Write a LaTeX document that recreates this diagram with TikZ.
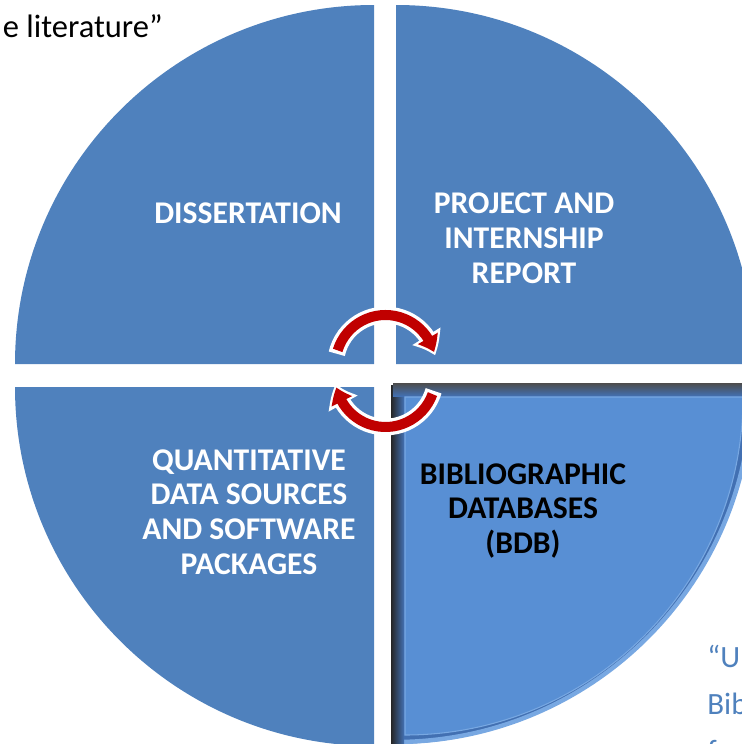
\documentclass[tikz,border=0pt]{standalone}
\usepackage{fontspec}
\setmainfont{Carlito}
\usetikzlibrary{arrows.meta,bending}
\definecolor{quadblue}{RGB}{79,129,189}
\definecolor{bdbblue}{RGB}{88,143,212}
\definecolor{bdbedge}{RGB}{66,112,178}
\definecolor{bdbrim}{RGB}{120,168,226}
\definecolor{cyclered}{RGB}{192,0,0}
\begin{document}
\begin{tikzpicture}[x=0.02cm,y=-0.02cm,
	quadlabel/.style={text=white,font=\bfseries\fontsize{18}{19.8}\selectfont,align=center},
	bdblabel/.style={quadlabel,text=black},
	cycleback/.style={white,line width=9.5pt,-{Triangle[bend,width=18pt,length=12pt]}},
	cyclefront/.style={cyclered,line width=5.7pt,-{Triangle[bend,width=12.5pt,length=8.5pt]}}]
	\useasboundingbox (0,0) rectangle (742,744);
	\fill[quadblue] (374,364)--(15,364) arc[start angle=180,end angle=270,radius=359]--cycle;
	\fill[quadblue] (396,364)--(396,5) arc[start angle=270,end angle=360,radius=359]--cycle;
	\fill[quadblue] (374,387)--(15,387) arc[start angle=180,end angle=90,radius=359]--cycle;
	\fill[bdbedge] (393,385)--(752,385) arc[start angle=0,end angle=90,radius=359]--cycle;
	\draw[bdbrim,line width=2.5pt] (752,385) arc[start angle=0,end angle=90,radius=357];
	\fill[left color=black!85,right color=bdbedge] (391,385) rectangle (404,744);
	\fill[top color=black!70,bottom color=bdbedge] (393,383) rectangle (742,396);
	\fill[bdbblue] (405,397)--(743,397) arc[start angle=0,end angle=90,radius=338]--cycle;
	\draw[bdbrim,line width=0.6pt] (405,397)--(743,397) arc[start angle=0,end angle=90,radius=338]--cycle;
	\draw[cycleback] (385.5,365)++(193:50) arc[start angle=193,end angle=349,radius=50];
	\draw[cyclefront] (385.5,365)++(197:50) arc[start angle=197,end angle=345,radius=50];
	\draw[cycleback] (385.5,377)++(16:50) arc[start angle=16,end angle=172,radius=50];
	\draw[cyclefront] (385.5,377)++(20:50) arc[start angle=20,end angle=168,radius=50];
	\node[quadlabel,anchor=base] (diss) at (248,223) {DISSERTATION};
	\node[quadlabel] (proj) at (524,238) {PROJECT AND\\INTERNSHIP\\REPORT};
	\node[quadlabel] (quant) at (249,512) {QUANTITATIVE\\DATA SOURCES\\AND SOFTWARE\\PACKAGES};
	\node[bdblabel] (bdb) at (523,511) {BIBLIOGRAPHIC\\DATABASES\\(BDB)};
	\node[anchor=base east,inner sep=0,font=\fontsize{18.5}{22}\selectfont] (lit) at (163,37) {e literature”};
	\node[anchor=north west,inner sep=0,align=left,text=quadblue,font=\fontsize{17.6}{26.6}\selectfont] (quote) at (707,645) {“U\\Bib\\fo};
\end{tikzpicture}
\end{document}
